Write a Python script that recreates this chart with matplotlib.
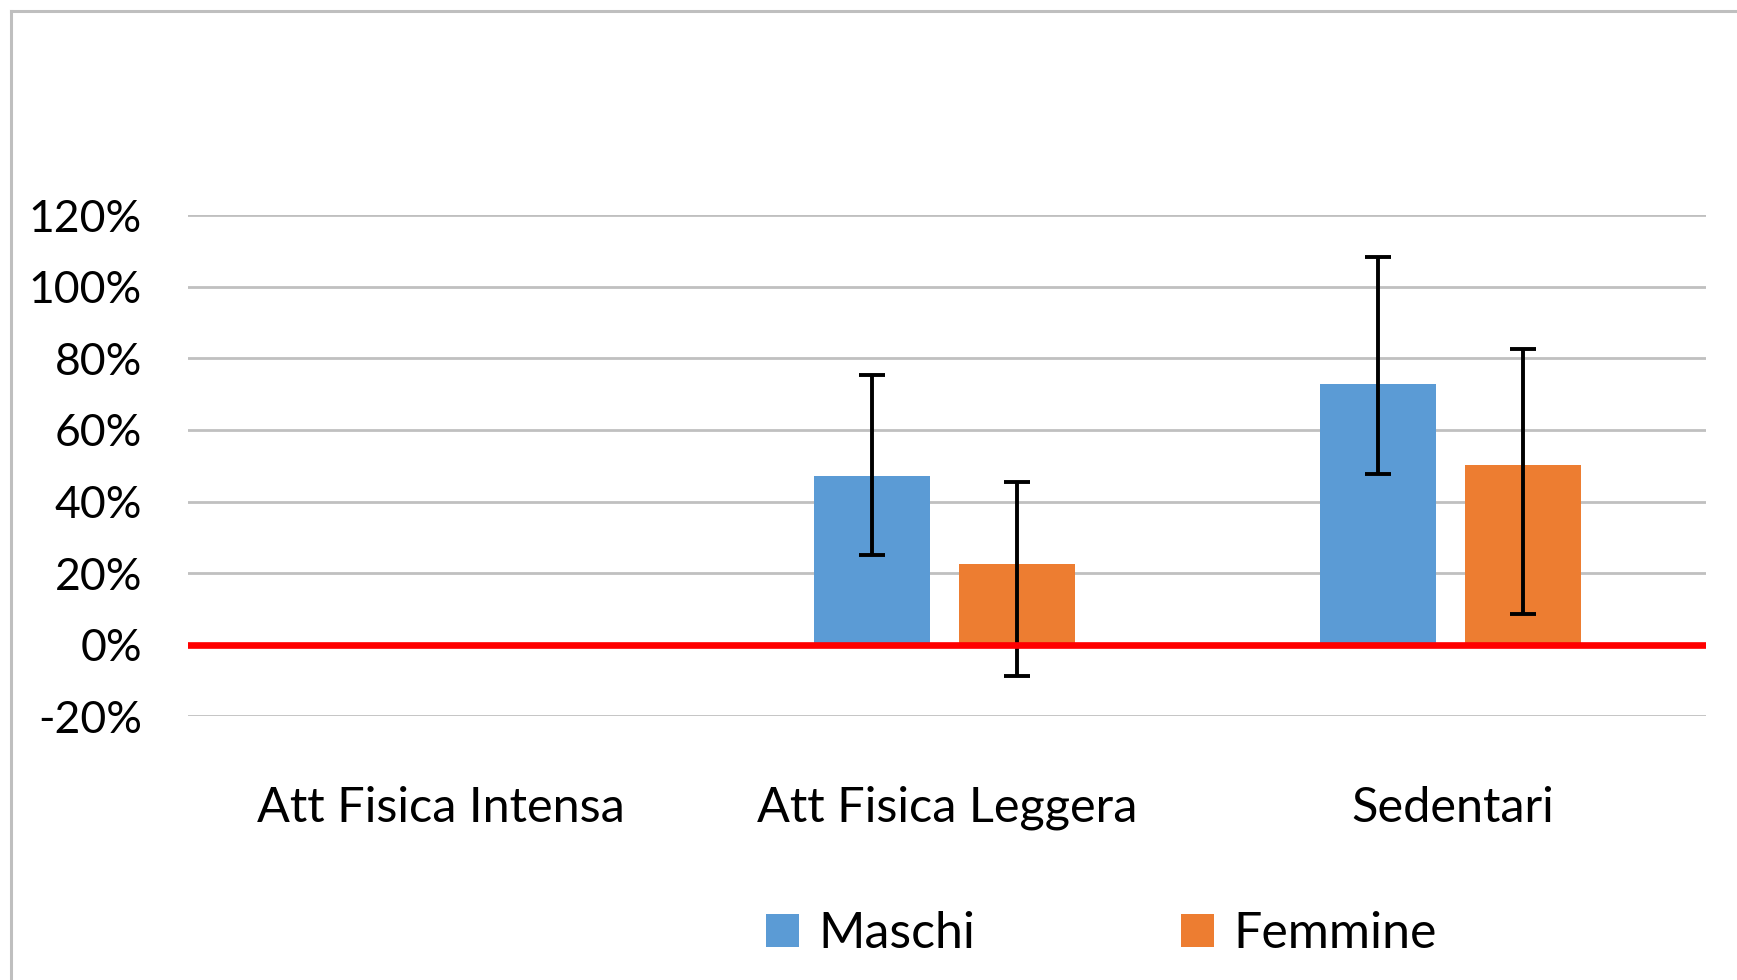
import matplotlib
matplotlib.use("Agg")
import matplotlib.pyplot as plt
import numpy as np
from matplotlib.lines import Line2D
from matplotlib.ticker import PercentFormatter

plt.rcParams["font.family"] = ["Lato", "DejaVu Sans"]
plt.rcParams["axes.unicode_minus"] = False

categorie = ["Att Fisica Intensa", "Att Fisica Leggera", "Sedentari"]
serie = ["Maschi", "Femmine"]
maschi = [0.0, 0.472, 0.728]
maschi_basso = [0.0, 0.252, 0.476]   # estremo inferiore barra d'errore
maschi_alto = [0.0, 0.754, 1.082]    # estremo superiore
femmine = [0.0, 0.226, 0.502]
femmine_basso = [0.0, -0.087, 0.086]
femmine_alto = [0.0, 0.456, 0.825]
yticks = [-0.2, 0.0, 0.2, 0.4, 0.6, 0.8, 1.0, 1.2]

blu = "#5B9BD5"
arancio = "#ED7D31"

fig = plt.figure(figsize=(17.37, 9.8), dpi=100)
ax = fig.add_axes([0.1082, 0.2689, 0.874, 0.5117])

x = np.arange(len(categorie))
w = 0.228
off = 0.1435

# errori asimmetrici: distanza dal valore
err_m = [np.array(maschi) - np.array(maschi_basso), np.array(maschi_alto) - np.array(maschi)]
err_f = [np.array(femmine) - np.array(femmine_basso), np.array(femmine_alto) - np.array(femmine)]

ax.bar(x - off - 0.005, maschi, width=w, color=blu, label=serie[0], zorder=2)
ax.bar(x + off - 0.005, femmine, width=w, color=arancio, label=serie[1], zorder=2)
ax.errorbar(x - off - 0.005, maschi, yerr=err_m, fmt="none", ecolor="black",
            elinewidth=2.8, capsize=9.4, capthick=2.8, zorder=3, clip_on=False)
ax.errorbar(x + off - 0.005, femmine, yerr=err_f, fmt="none", ecolor="black",
            elinewidth=2.8, capsize=9.4, capthick=2.8, zorder=3, clip_on=False)

ax.axhline(0, color="#FF0000", linewidth=4.8, zorder=4)

ax.set_xlim(-0.5, len(categorie) - 0.5)
ax.set_ylim(-0.2, 1.2)
ax.set_yticks(yticks)
ax.yaxis.set_major_formatter(PercentFormatter(1.0, decimals=0))
ax.set_xticks(x)
ax.set_xticklabels(categorie)
ax.grid(axis="y", color="#C0C0C0", linewidth=2, zorder=0)
ax.set_axisbelow(True)
for s in ax.spines.values():
    s.set_visible(False)
ax.tick_params(axis="both", length=0, colors="black")
ax.tick_params(axis="y", pad=33, labelsize=32)
ax.tick_params(axis="x", pad=50, labelsize=35)

fig.legend(loc="center", bbox_to_anchor=(0.634, 1 - 934 / 980), ncol=2,
           frameon=False, fontsize=36, handlelength=0.66, handleheight=0.66,
           handletextpad=0.4, columnspacing=4.1)

# cornice grigia del grafico
fig.add_artist(Line2D([11 / 1737, 11 / 1737], [0, 1 - 11 / 980], color="#BFBFBF", linewidth=2.2))
fig.add_artist(Line2D([11 / 1737, 1], [1 - 11 / 980, 1 - 11 / 980], color="#BFBFBF", linewidth=2.2))

fig.savefig("out.png", dpi=100)
